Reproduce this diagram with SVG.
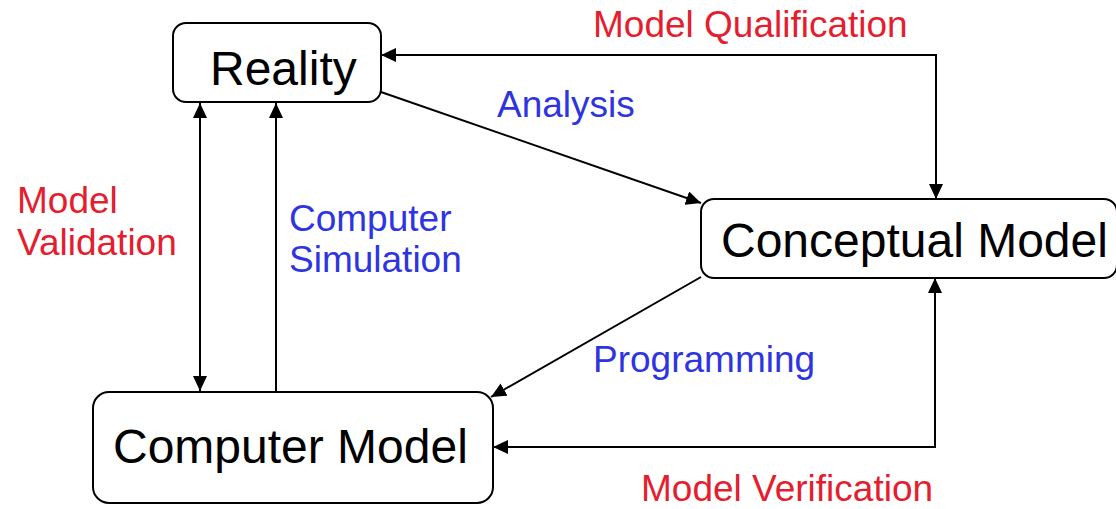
<svg xmlns="http://www.w3.org/2000/svg" width="1116" height="509" viewBox="0 0 1116 509">
<style>
.box{fill:#fff;stroke:#000;stroke-width:2}
.node{font-family:"Liberation Sans",Arial,sans-serif;font-size:48px;fill:#000}
.lbl{font-family:"Liberation Sans",Arial,sans-serif;font-size:37px}
.red{fill:#E41E2E}
.blue{fill:#2E35E0}
.con{fill:none;stroke:#000;stroke-width:2}
</style>
<defs>
<marker id="ah" viewBox="0 0 15 14" refX="15" refY="7" markerWidth="15" markerHeight="14" markerUnits="userSpaceOnUse" orient="auto-start-reverse">
<path d="M0,0 L15,7 L0,14 z" fill="#000"/>
</marker>
</defs>
<rect width="1116" height="509" fill="#fff"/>
<g id="connectors">
<path class="con" d="M936,199 L936,55 L381,55" marker-start="url(#ah)" marker-end="url(#ah)"/>
<path class="con" d="M381,92 L701,203" marker-end="url(#ah)"/>
<path class="con" d="M701,277 L491,397" marker-end="url(#ah)"/>
<path class="con" d="M935,278 L935,447 L493,447" marker-start="url(#ah)" marker-end="url(#ah)"/>
<path class="con" d="M200,103 L200,391" marker-start="url(#ah)" marker-end="url(#ah)"/>
<path class="con" d="M276,391 L276,103" marker-end="url(#ah)"/>
</g>
<g id="reality">
<rect class="box" x="173" y="23" width="208" height="79" rx="13"/>
<text class="node" x="210" y="85">Reality</text>
</g>
<g id="conceptual-model">
<rect class="box" x="701" y="199" width="416" height="79" rx="13"/>
<text class="node" x="721" y="257">Conceptual Model</text>
</g>
<g id="computer-model">
<rect class="box" x="93" y="392" width="400" height="111" rx="16"/>
<text class="node" x="113" y="463">Computer Model</text>
</g>
<g id="labels">
<text class="lbl red" x="593" y="37">Model Qualification</text>
<text class="lbl blue" x="497" y="117">Analysis</text>
<text class="lbl red" x="17" y="213">Model</text>
<text class="lbl red" x="17" y="255">Validation</text>
<text class="lbl blue" x="289" y="231">Computer</text>
<text class="lbl blue" x="289" y="272">Simulation</text>
<text class="lbl blue" x="593" y="372">Programming</text>
<text class="lbl red" x="641" y="501">Model Verification</text>
</g>
</svg>
